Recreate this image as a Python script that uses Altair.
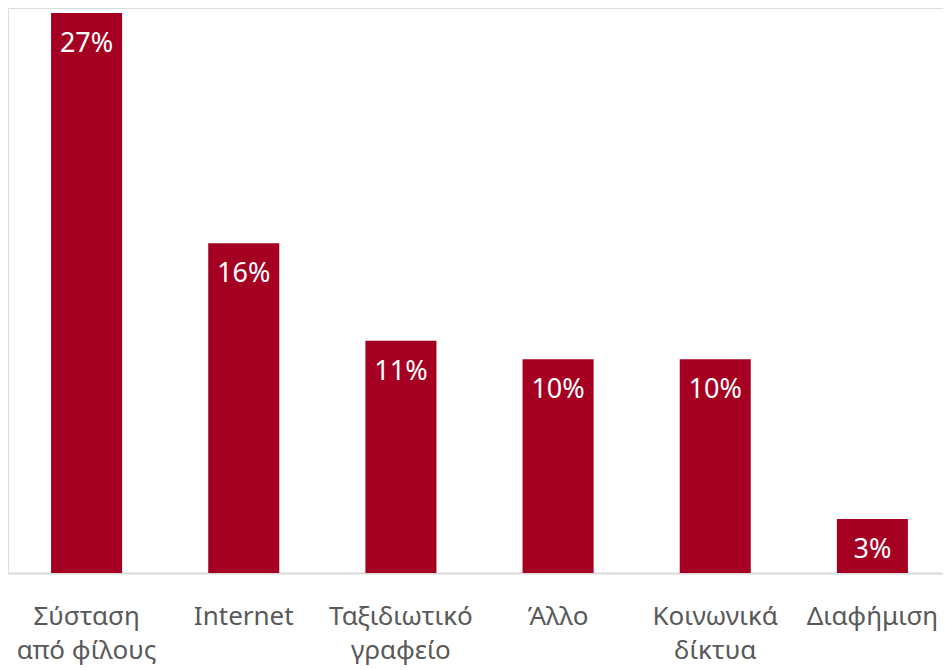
import altair as alt
import pandas as pd

categories = ["Σύσταση\nαπό φίλους", "Internet", "Ταξιδιωτικό\nγραφείο", "Άλλο", "Κοινωνικά\nδίκτυα", "Διαφήμιση"]
values = [27.0, 15.9, 11.2, 10.3, 10.3, 2.6]
value_labels = ["27%", "16%", "11%", "10%", "10%", "3%"]

df = pd.DataFrame({"cat": categories, "val": values, "lbl": value_labels})

x = alt.X(
    "cat:N",
    sort=categories,
    scale=alt.Scale(paddingInner=0.548, paddingOuter=0.274),
    axis=alt.Axis(
        title=None,
        labelExpr="split(datum.label, '\\n')",
        labelAngle=0,
        labelFont="Noto Sans",
        labelFontSize=26,
        labelColor="#595959",
        labelPadding=30,
        labelLineHeight=34,
        labelBaseline="top",
        labelOverlap=False,
        labelBound=False,
        labelFlush=False,
        labelLimit=0,
        ticks=False,
        domainColor="#D9D9D9",
        domainWidth=2,
        grid=False,
    ),
)
y = alt.Y("val:Q", scale=alt.Scale(domain=[0, 27.24], nice=False, zero=True), axis=None)

base = alt.Chart(df).encode(x=x, y=y)
bars = base.mark_bar(color="#A50021")
text = base.mark_text(baseline="middle", dy=31, color="white", font="Noto Sans", fontSize=27).encode(text="lbl:N")

chart = (
    alt.layer(bars, text)
    .properties(
        width=943,
        height=565,
        padding={"left": 0, "top": 0, "right": -8, "bottom": 99},
        autosize=alt.AutoSizeParams(type="none"),
    )
    .configure_view(stroke="transparent", strokeWidth=0, strokeOpacity=0)
    .configure(background="white")
)

chart.save("out.html", embed_options={"renderer": "svg", "actions": False})
